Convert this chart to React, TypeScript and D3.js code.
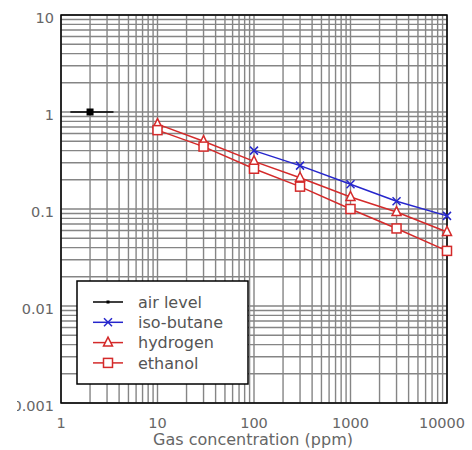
import * as d3 from "d3"

// values
const airConc = [1.25, 3.5]
const airMarkerConc = 2
const airValue = 1
const conc = [10, 30, 100, 300, 1000, 3000, 10000]
const hydrogen = [0.75, 0.5, 0.31, 0.21, 0.133, 0.093, 0.058]
const ethanol = [0.65, 0.44, 0.26, 0.17, 0.1, 0.063, 0.037]
const isoConc = [100, 300, 1000, 3000, 10000]
const isoButane = [0.4, 0.28, 0.18, 0.12, 0.085]
const xTicks = [1, 10, 100, 1000, 10000]
const yTicks = [10, 1, 0.1, 0.01, 0.001]
const yTickLabels = ["10", "1", "0.1", "0.01", "0.001"]
const legendLabels = ["air level", "iso-butane", "hydrogen", "ethanol"]

const W = 472
const H = 450
const margin = { top: 15, right: 25, bottom: 47, left: 61 }
const RED = "#d42a2a"
const BLUE = "#2626cc"
const FONT = "DejaVu Sans, sans-serif"

// minor grid values k*10^n
const logGrid = (lo: number, hi: number) => {
  const out: number[] = []
  for (let p = Math.log10(lo); p < Math.log10(hi); p++) {
    for (let k = 1; k <= 9; k++) out.push(k * Math.pow(10, p))
  }
  out.push(hi)
  return out
}

const Marker = ({ kind, x, y, color }: { kind: string; x: number; y: number; color: string }) => {
  if (kind === "tri")
    return (
      <path
        d={`M${x},${y - 5.5}L${x + 4.5},${y + 3.5}L${x - 4.5},${y + 3.5}Z`}
        fill="white"
        stroke={color}
        strokeWidth={1.5}
      />
    )
  if (kind === "sq")
    return <rect x={x - 4.5} y={y - 4.5} width={9} height={9} fill="white" stroke={color} strokeWidth={1.5} />
  if (kind === "x")
    return (
      <path
        d={`M${x - 4},${y - 4}L${x + 4},${y + 4}M${x - 4},${y + 4}L${x + 4},${y - 4}`}
        stroke={color}
        strokeWidth={1.5}
      />
    )
  if (kind === "dot") return <rect x={x - 1.5} y={y - 1.5} width={3} height={3} fill={color} />
  return <rect x={x - 3.5} y={y - 3.5} width={7} height={7} fill={color} />
}

export default function App() {
  const x = d3.scaleLog().domain([1, 10000]).range([margin.left, W - margin.right])
  const y = d3.scaleLog().domain([0.001, 10]).range([H - margin.bottom, margin.top])
  const line = d3
    .line<[number, number]>()
    .x((d) => x(d[0]))
    .y((d) => y(d[1]))

  const series = [
    { xs: isoConc, ys: isoButane, color: BLUE, kind: "x" },
    { xs: conc, ys: hydrogen, color: RED, kind: "tri" },
    { xs: conc, ys: ethanol, color: RED, kind: "sq" },
  ]

  const legendItems = [
    { color: "black", kind: "dot" },
    { color: BLUE, kind: "x" },
    { color: RED, kind: "tri" },
    { color: RED, kind: "sq" },
  ]

  const [x0, x1] = x.range()
  const [y0, y1] = y.range()

  return (
    <svg width={W} height={H} style={{ position: "absolute", left: 0, top: 0 }}>
      <defs>
        <clipPath id="labclip">
          <rect x={17} y={0} width={W} height={H} />
        </clipPath>
      </defs>
      <rect width={W} height={H} fill="white" />

      {/* grid */}
      <g stroke="#858585" strokeWidth={1.4}>
        {logGrid(1, 10000).map((v, i) => (
          <line key={"v" + i} x1={x(v)} x2={x(v)} y1={y1} y2={y0} />
        ))}
        {logGrid(0.001, 10).map((v, i) => (
          <line key={"h" + i} x1={x0} x2={x1} y1={y(v)} y2={y(v)} />
        ))}
      </g>
      <rect x={x0} y={y1} width={x1 - x0} height={y0 - y1} fill="none" stroke="black" strokeWidth={1.5} />

      {/* air level */}
      <path
        d={line(airConc.map((c) => [c, airValue]) as [number, number][]) || ""}
        fill="none"
        stroke="black"
        strokeWidth={1.5}
      />
      <Marker kind="fill" x={x(airMarkerConc)} y={y(airValue)} color="black" />

      {series.map((s, i) => (
        <g key={i}>
          <path
            d={line(s.xs.map((c, j) => [c, s.ys[j]]) as [number, number][]) || ""}
            fill="none"
            stroke={s.color}
            strokeWidth={1.5}
          />
          {s.xs.map((c, j) => (
            <Marker key={j} kind={s.kind} x={x(c)} y={y(s.ys[j])} color={s.color} />
          ))}
        </g>
      ))}

      {/* legend */}
      <g>
        <rect x={77} y={281} width={171} height={103} fill="white" stroke="black" strokeWidth={1.5} />
        {legendItems.map((it, i) => {
          const ly = 302 + i * 20.3
          return (
            <g key={i}>
              <line x1={93} x2={123} y1={ly} y2={ly} stroke={it.color} strokeWidth={1.5} />
              <Marker kind={it.kind} x={108} y={ly} color={it.color} />
              <text x={138} y={ly} dy="0.35em" fontFamily={FONT} fontSize={16} fill="#555">
                {legendLabels[i]}
              </text>
            </g>
          )
        })}
      </g>

      {/* axis labels */}
      <g fontFamily={FONT} fontSize={14.5} fill="#666" clipPath="url(#labclip)">
        {yTicks.map((v, i) => (
          <text key={i} x={54} y={y(v) + 3} dy="0.35em" textAnchor="end">
            {yTickLabels[i]}
          </text>
        ))}
      </g>
      <g fontFamily={FONT} fontSize={14.5} fill="#666">
        {xTicks.map((v, i) => (
          <text key={i} x={i === xTicks.length - 1 ? x(v) - 5 : x(v)} y={428} textAnchor="middle">
            {v}
          </text>
        ))}
        <text x={253} y={445} textAnchor="middle" fontSize={16}>
          Gas concentration (ppm)
        </text>
      </g>
    </svg>
  )
}
